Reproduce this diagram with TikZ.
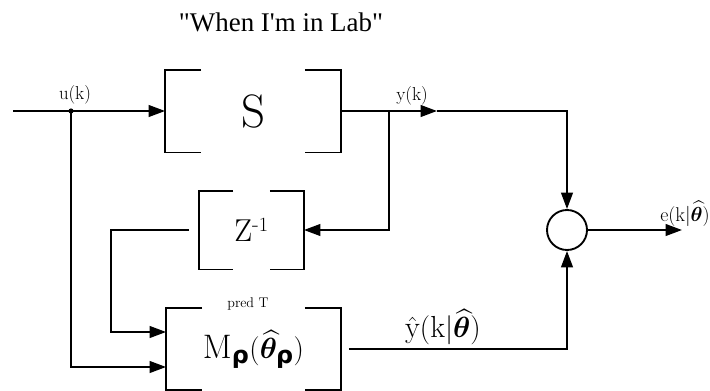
\documentclass[tikz,border=0pt]{standalone}
\usepackage{amsmath,bm}
\usepackage{fontspec}
\newfontfamily\titlefont{Liberation Serif}
\newfontfamily\rhofont{DejaVu Sans}
\newcommand{\brho}{\text{\rhofont\bfseries ρ}}
\usetikzlibrary{positioning, calc, arrows.meta}

\begin{document}
\begin{tikzpicture}[x=0.03cm, y=-0.03cm,
  >={Triangle[length=14pt, width=10pt]}, line width=1.6pt,
  block/.style = {inner sep=0pt, minimum width=#1},
  sum/.style   = {draw, circle, inner sep=0pt, minimum size=1.2cm},
  lbl/.style   = {inner sep=0pt, font=\fontsize{16}{18}\selectfont},
]
  \useasboundingbox (0,0) rectangle (710,390);

  \node[font=\titlefont\fontsize{23}{26}\selectfont] (title) at (281,22) {"When I'm in Lab"};

  \node[block=5.22cm, minimum height=2.43cm, font=\fontsize{40}{44}\selectfont] (S) at (253,111) {S};
  \node[block=3.09cm, minimum height=2.31cm, font=\fontsize{27}{30}\selectfont] (Z) at (251.5,230) {$\mathrm{Z}^{\text{-}1}$};
  \node[block=5.19cm, minimum height=2.4cm,  font=\fontsize{29}{32}\selectfont] (M) at (253.5,349)
    {$\mathrm{M}_{\brho}(\widehat{\boldsymbol{\theta}}_{\brho})$};
  \node[sum] (sum) at (567,230) {};

  % brackets round the blocks
  \foreach \b/\t in {S/36, Z/34, M/36} {
    \draw (\b.north west) ++(\t,0) -- (\b.north west) -- (\b.south west) -- ++(\t,0);
    \draw (\b.north east) ++(-\t,0) -- (\b.north east) -- (\b.south east) -- ++(-\t,0);
  }
  \node[inner sep=0pt, font=\fontsize{12}{14}\selectfont] (predT) at (248,304) {pred T};

  \node[coordinate] (uin)  at (13,111) {};
  \node[coordinate] (ubr)  at (71,111) {};
  \node[coordinate] (udn)  at (71,367) {};
  \node[coordinate] (ybr)  at (389,111) {};
  \node[coordinate] (yarr) at (437,111) {};
  \node[coordinate] (zdn)  at (111,332) {};
  \node[coordinate] (eout) at (682,230) {};

  \draw[->] (uin) -- (S.west);
  \fill (ubr) circle (2.2pt);
  \draw (S.east) -- (ybr);
  \draw[->] (ybr) -- (yarr);
  \draw[->] (yarr) -| (sum.north);
  \draw[->] (ybr) |- (Z.east);
  \draw[->, shorten <=0.3cm] (Z.west) -| (zdn) -- (zdn -| M.west);
  \draw[->] (ubr) -- (udn) -- (udn -| M.west);
  \draw[->, shorten <=0.24cm] (M.east) -| (sum.south);
  \draw[->] (sum.east) -- (eout);

  \node[lbl] (ulbl) at (75,95) {u(k)};
  \node[lbl] (ylbl) at (412,96) {y(k)};
  \node[lbl, font=\fontsize{17}{19}\selectfont, anchor=south] (elbl) at (685,227)
    {e(k$|\widehat{\boldsymbol{\theta}}$)};
  \node[lbl, font=\fontsize{26}{30}\selectfont, anchor=south] (yhlbl) at (443,346)
    {$\hat{\mathrm{y}}(\mathrm{k}|\widehat{\boldsymbol{\theta}})$};
\end{tikzpicture}
\end{document}
